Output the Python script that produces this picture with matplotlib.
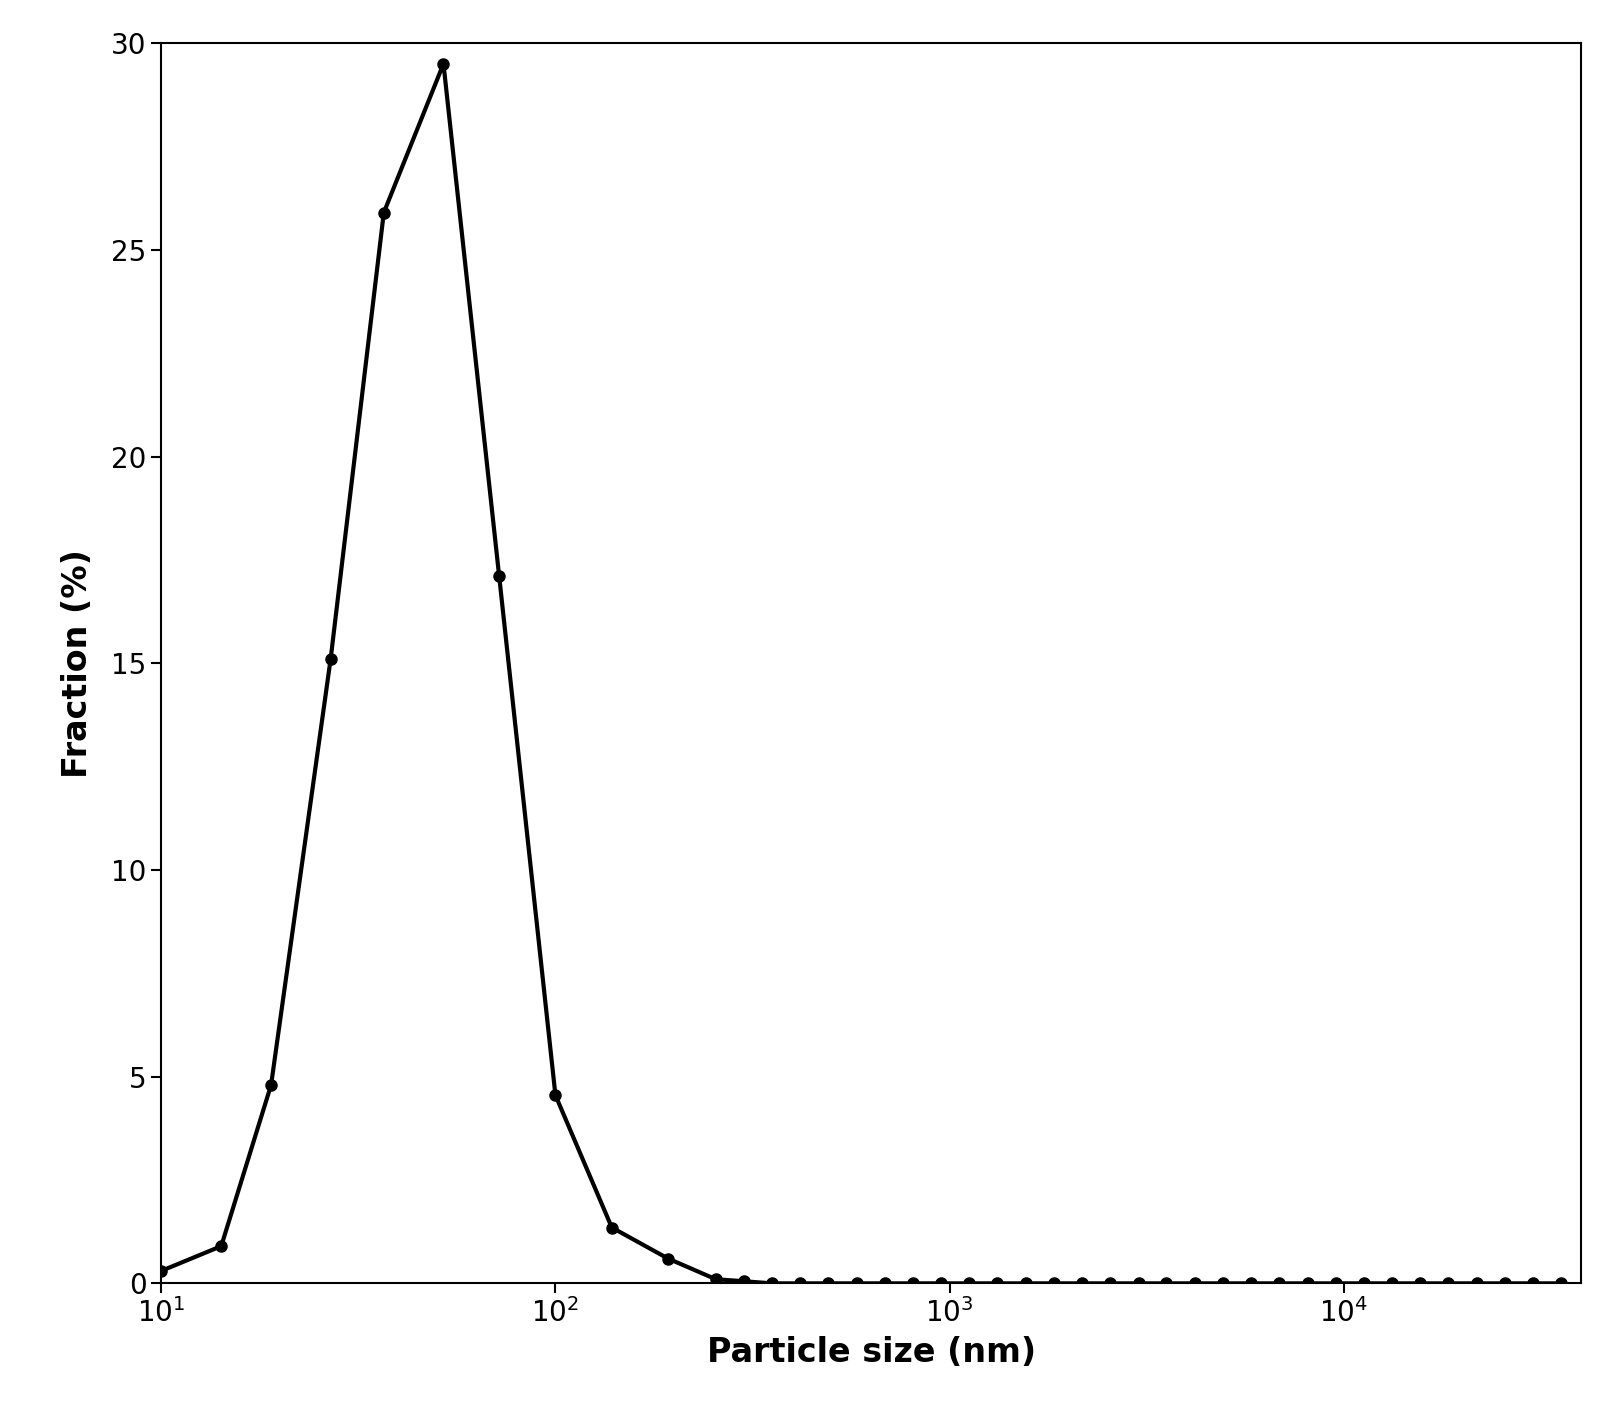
import matplotlib
matplotlib.use("Agg")
import matplotlib.pyplot as plt

sizes_nm = [10, 14.2, 19, 26.9, 36.7, 52, 72, 100, 139, 193,
            255, 301, 354, 418, 492, 581, 684, 807, 951, 1122, 1321, 1560, 1837,
            2168, 2553, 3013, 3548, 4188, 4932, 5821, 6855, 8091, 9528, 11246,
            13243, 15631, 18408, 21727, 25586, 30200, 35563]
fraction = [0.3, 0.9, 4.8, 15.1, 25.9, 29.5, 17.1, 4.55, 1.35, 0.6,
            0.1, 0.05] + [0.0] * 29

W, H = 1568, 1387
fig = plt.figure(figsize=(16.1, 14.24), dpi=100)
ax = fig.add_axes([157/W, 1 - 1250/H, (1540-157)/W, (1250-42)/H])
ax.plot(sizes_nm, fraction, color="black", lw=3, marker="o", ms=8)
ax.set_xscale("log")
ax.set_xlim(10, 40000)
ax.set_ylim(0, 30)
ax.set_yticks([0, 5, 10, 15, 20, 25, 30])
ax.tick_params(labelsize=20, width=1.5, length=7)
ax.tick_params(which="minor", length=0)
for s in ax.spines.values():
    s.set_linewidth(1.5)
ax.set_xlabel("Particle size (nm)", fontsize=24, fontweight="bold", labelpad=6)
ax.set_ylabel("Fraction (%)", fontsize=24, fontweight="bold", labelpad=12)
fig.savefig("out.png", dpi=100)
